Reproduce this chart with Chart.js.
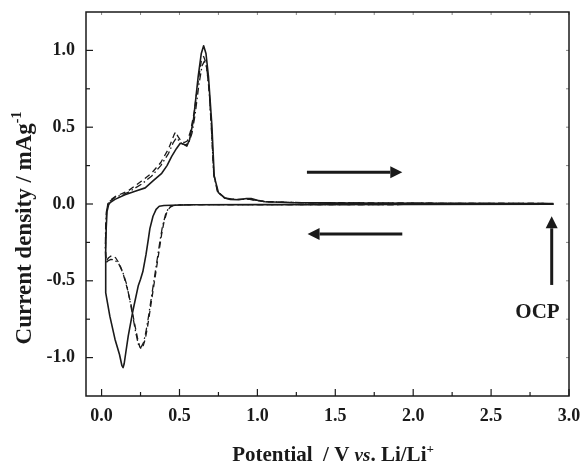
<!DOCTYPE html>
<html>
<head>
<meta charset="utf-8">
<script src="https://cdn.jsdelivr.net/npm/chart.js@4.4.1/dist/chart.umd.min.js"></script>
<style>
  html, body { margin: 0; padding: 0; background: #fff; }
  #wrap { position: relative; width: 582px; height: 465px; }
</style>
</head>
<body>
<div id="wrap"><canvas id="cv"></canvas></div>
<script>
/* ---------- data: potential (V vs. Li/Li+) / current density (mAg-1), sweep order from OCP ---------- */
// 1st cycle (solid)
var solidV = [2.90, 2.00, 1.00, 0.60, 0.45, 0.40, 0.37, 0.35, 0.33, 0.31, 0.30, 0.285, 0.265, 0.25, 0.236, 0.20, 0.171, 0.155, 0.145, 0.138, 0.13, 0.115, 0.086, 0.053, 0.032, 0.027, 0.026, 0.027, 0.030, 0.035, 0.045, 0.055, 0.086, 0.15, 0.22, 0.28, 0.33, 0.386, 0.42, 0.45, 0.48, 0.505, 0.525, 0.547, 0.565, 0.59, 0.62, 0.64, 0.655, 0.67, 0.686, 0.708, 0.723, 0.75, 0.79, 0.826, 0.88, 0.93, 0.96, 1.00, 1.05, 1.20, 1.60, 2.20, 2.90];
var solidI = [-0.002, -0.003, -0.004, -0.005, -0.008, -0.01, -0.015, -0.035, -0.08, -0.16, -0.23, -0.33, -0.44, -0.49, -0.53, -0.70, -0.86, -0.97, -1.04, -1.065, -1.05, -0.98, -0.88, -0.73, -0.61, -0.58, -0.45, -0.30, -0.15, -0.05, -0.005, 0.01, 0.03, 0.06, 0.085, 0.105, 0.15, 0.20, 0.25, 0.31, 0.36, 0.395, 0.39, 0.377, 0.42, 0.55, 0.83, 0.98, 1.03, 0.98, 0.83, 0.51, 0.18, 0.074, 0.04, 0.03, 0.028, 0.036, 0.035, 0.025, 0.015, 0.01, 0.006, 0.004, 0.003];
// 2nd cycle (dashed)
var dashV = [2.90, 2.00, 1.00, 0.60, 0.50, 0.46, 0.44, 0.42, 0.40, 0.385, 0.37, 0.355, 0.34, 0.325, 0.31, 0.295, 0.28, 0.265, 0.255, 0.245, 0.23, 0.21, 0.19, 0.165, 0.14, 0.115, 0.09, 0.065, 0.045, 0.03, 0.025, 0.027, 0.032, 0.04, 0.055, 0.09, 0.17, 0.257, 0.32, 0.38, 0.43, 0.465, 0.475, 0.49, 0.51, 0.53, 0.55, 0.57, 0.595, 0.62, 0.64, 0.655, 0.67, 0.69, 0.705, 0.72, 0.745, 0.79, 0.85, 0.95, 1.05, 1.30, 2.00, 2.90];
var dashI = [-0.002, -0.003, -0.004, -0.004, -0.006, -0.01, -0.02, -0.05, -0.12, -0.20, -0.30, -0.40, -0.50, -0.60, -0.70, -0.80, -0.88, -0.93, -0.945, -0.93, -0.87, -0.77, -0.66, -0.55, -0.46, -0.39, -0.35, -0.335, -0.35, -0.37, -0.30, -0.15, -0.05, 0.0, 0.025, 0.05, 0.085, 0.15, 0.20, 0.27, 0.36, 0.45, 0.47, 0.44, 0.41, 0.40, 0.41, 0.47, 0.60, 0.80, 0.93, 0.96, 0.92, 0.75, 0.50, 0.20, 0.08, 0.04, 0.03, 0.03, 0.015, 0.008, 0.005, 0.003];
// 3rd cycle (dash-dot)
var dotV = [2.90, 2.00, 1.00, 0.60, 0.50, 0.46, 0.43, 0.41, 0.39, 0.375, 0.36, 0.345, 0.33, 0.315, 0.30, 0.285, 0.27, 0.255, 0.245, 0.235, 0.22, 0.20, 0.18, 0.16, 0.135, 0.11, 0.085, 0.06, 0.04, 0.028, 0.024, 0.026, 0.031, 0.04, 0.055, 0.09, 0.17, 0.257, 0.32, 0.38, 0.43, 0.46, 0.48, 0.50, 0.52, 0.54, 0.56, 0.58, 0.60, 0.625, 0.645, 0.66, 0.675, 0.69, 0.705, 0.72, 0.745, 0.79, 0.85, 0.95, 1.05, 1.30, 2.00, 2.90];
var dotI = [-0.002, -0.003, -0.004, -0.004, -0.006, -0.01, -0.025, -0.07, -0.15, -0.24, -0.34, -0.44, -0.54, -0.64, -0.74, -0.83, -0.90, -0.93, -0.935, -0.91, -0.84, -0.73, -0.62, -0.52, -0.44, -0.39, -0.365, -0.36, -0.37, -0.39, -0.30, -0.15, -0.05, -0.002, 0.02, 0.045, 0.075, 0.13, 0.18, 0.25, 0.33, 0.40, 0.43, 0.41, 0.39, 0.385, 0.40, 0.46, 0.58, 0.78, 0.90, 0.93, 0.89, 0.74, 0.49, 0.19, 0.075, 0.038, 0.03, 0.03, 0.015, 0.008, 0.005, 0.003];

// axis ticks
var xTicks = [0.0, 0.5, 1.0, 1.5, 2.0, 2.5, 3.0];
var xMinor = [0.25, 0.75, 1.25, 1.75, 2.25, 2.75];
var yTicks = [-1.0, -0.5, 0.0, 0.5, 1.0];
var yMinor = [-0.75, -0.25, 0.25, 0.75];

(function () {
  "use strict";
  var $ = function (id) { return document.getElementById(id); };
  var serif = '"Liberation Serif", "Times New Roman", serif';
  var ink = "#1a1a1a";

  var pts = function (xs, ys) { return xs.map(function (x, i) { return { x: x, y: ys[i] }; }); };

  /* ---------- annotations (data coords) ---------- */
  var arrows = [
    { from: [1.318, 0.206], to: [1.93, 0.206] },
    { from: [1.93, -0.195], to: [1.322, -0.195] },
    { from: [2.889, -0.527], to: [2.889, -0.08] },
  ];
  var ocp = { text: "OCP", at: [2.798, -0.706] };

  function arrow(c, x1, y1, x2, y2) {
    var ang = Math.atan2(y2 - y1, x2 - x1), hl = 12, hw = 6;
    var bx = x2 - Math.cos(ang) * hl, by = y2 - Math.sin(ang) * hl;
    c.lineWidth = 3;
    c.beginPath(); c.moveTo(x1, y1); c.lineTo(bx, by); c.stroke();
    c.beginPath();
    c.moveTo(x2, y2);
    c.lineTo(bx + Math.sin(ang) * hw, by - Math.cos(ang) * hw);
    c.lineTo(bx - Math.sin(ang) * hw, by + Math.cos(ang) * hw);
    c.closePath(); c.fill();
  }

  // draws mixed-style text runs left to right from x, returns width
  function runs(c, parts, x, y, measureOnly) {
    var w = 0;
    parts.forEach(function (p) {
      c.font = p.f;
      if (!measureOnly) c.fillText(p.t, x + w, y + (p.dy || 0));
      w += c.measureText(p.t).width;
    });
    return w;
  }

  var frame = {
    id: "frame",
    afterDraw: function (chart) {
      var c = chart.ctx, a = chart.chartArea, sx = chart.scales.x, sy = chart.scales.y;
      c.save();
      c.strokeStyle = ink; c.fillStyle = ink; c.lineCap = "butt";
      function seg(x1, y1, x2, y2) { c.beginPath(); c.moveTo(x1, y1); c.lineTo(x2, y2); c.stroke(); }

      /* inward ticks */
      c.lineWidth = 1.2;
      xTicks.forEach(function (v) { var p = sx.getPixelForValue(v); seg(p, a.bottom, p, a.bottom - 7); });
      xMinor.forEach(function (v) { var p = sx.getPixelForValue(v); seg(p, a.bottom, p, a.bottom - 4); });
      yTicks.forEach(function (v) { var p = sy.getPixelForValue(v); seg(a.left, p, a.left + 7, p); });
      yMinor.forEach(function (v) { var p = sy.getPixelForValue(v); seg(a.left, p, a.left + 4, p); });
      c.strokeStyle = "#888"; c.lineWidth = 1;
      xTicks.concat(xMinor).forEach(function (v) { var p = sx.getPixelForValue(v); seg(p, a.top, p, a.top + 3); });
      yTicks.concat(yMinor).forEach(function (v) { var p = sy.getPixelForValue(v); seg(a.right, p, a.right - 3, p); });

      /* box */
      c.strokeStyle = ink; c.lineWidth = 1.5;
      c.strokeRect(a.left, a.top, a.right - a.left, a.bottom - a.top);

      /* arrows + OCP */
      arrows.forEach(function (r) {
        arrow(c, sx.getPixelForValue(r.from[0]), sy.getPixelForValue(r.from[1]),
          sx.getPixelForValue(r.to[0]), sy.getPixelForValue(r.to[1]));
      });
      c.font = "bold 21px " + serif; c.textAlign = "center"; c.textBaseline = "middle";
      c.fillText(ocp.text, sx.getPixelForValue(ocp.at[0]), sy.getPixelForValue(ocp.at[1]));

      /* axis titles */
      c.textAlign = "left"; c.textBaseline = "alphabetic";
      var xt = [
        { t: "Potential  / V ", f: "bold 21px " + serif },
        { t: "vs", f: "italic bold 19px " + serif },
        { t: ". Li/Li", f: "bold 21px " + serif },
        { t: "+", f: "bold 13px " + serif, dy: -8 },
      ];
      var w = runs(c, xt, 0, 0, true);
      runs(c, xt, 333 - w / 2, 461);

      var yt = [
        { t: "Current density / mAg", f: "bold 23px " + serif },
        { t: "-1", f: "bold 14px " + serif, dy: -10 },
      ];
      c.translate(31, 228); c.rotate(-Math.PI / 2);
      w = runs(c, yt, 0, 0, true);
      runs(c, yt, -w / 2, 0);
      c.restore();
    },
  };

  var line = function (xs, ys, dash, width) {
    return {
      data: pts(xs, ys), showLine: true, pointRadius: 0, borderColor: ink, backgroundColor: ink,
      borderWidth: width, borderDash: dash, tension: 0, borderJoinStyle: "round",
    };
  };

  var noPad = function (s) { s.paddingTop = 0; s.paddingBottom = 0; s.paddingLeft = 0; s.paddingRight = 0; };

  new Chart($("cv"), {
    type: "scatter",
    data: {
      datasets: [
        line(solidV, solidI, [], 1.6),
        line(dashV, dashI, [6, 4], 1.3),
        line(dotV, dotI, [7, 3, 1.5, 3], 1.3),
      ],
    },
    options: {
      responsive: true, maintainAspectRatio: false, animation: false,
      layout: { padding: { top: 12, right: 13, left: 0, bottom: 0 } },
      plugins: { legend: { display: false }, tooltip: { enabled: false } },
      scales: {
        x: {
          type: "linear", min: -0.1, max: 3.0,
          grid: { display: false, drawTicks: false }, border: { display: false },
          afterBuildTicks: function (s) { s.ticks = xTicks.map(function (v) { return { value: v }; }); },
          afterFit: function (s) { s.height = 69; noPad(s); },
          ticks: { padding: 10, color: ink, font: { family: serif, size: 18, weight: "bold" },
            maxRotation: 0, callback: function (v) { return Number(v).toFixed(1); } },
        },
        y: {
          type: "linear", min: -1.25, max: 1.25,
          grid: { display: false, drawTicks: false }, border: { display: false },
          afterBuildTicks: function (s) { s.ticks = yTicks.map(function (v) { return { value: v }; }); },
          afterFit: function (s) { s.width = 86; noPad(s); },
          ticks: { padding: 11, color: ink, font: { family: serif, size: 18, weight: "bold" },
            callback: function (v) { return Number(v).toFixed(1); } },
        },
      },
    },
    plugins: [frame],
  });
})();
</script>
</body>
</html>
